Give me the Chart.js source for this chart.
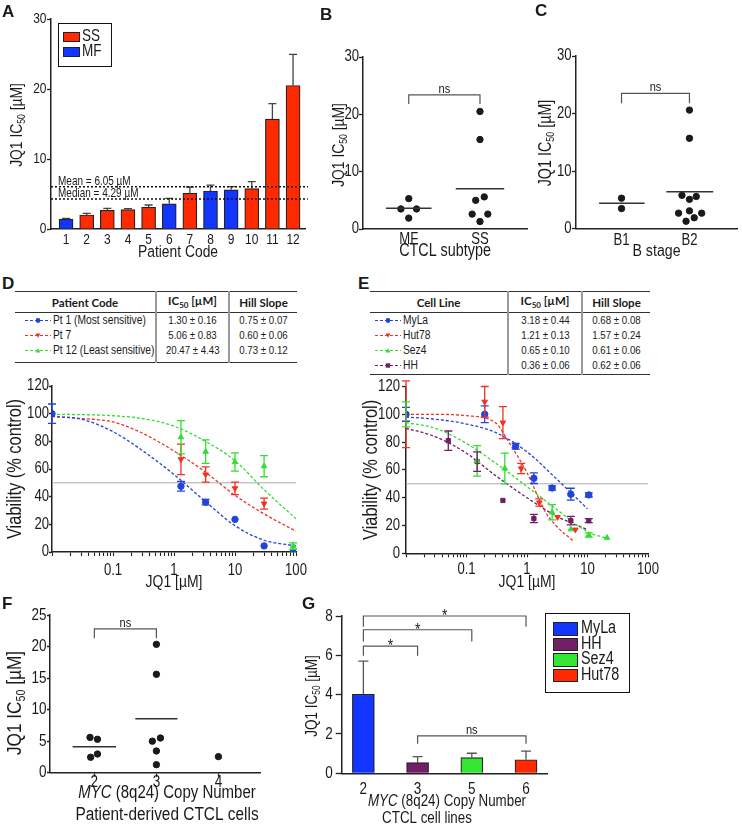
<!DOCTYPE html>
<html>
<head>
<meta charset="utf-8">
<title>JQ1 IC50 in CTCL</title>
<script src="https://cdn.jsdelivr.net/npm/chart.js@4.4.1/dist/chart.umd.min.js"></script>
<style>
  body { margin: 0; background: #fff; }
  #page { position: relative; width: 742px; height: 826px; overflow: hidden; color: #1a1a1a;
          font-family: 'Liberation Sans', Arial, sans-serif; }
  canvas { position: absolute; }
  .letter { position: absolute; font: bold 17px/17px 'Liberation Sans', Arial, sans-serif; }
  .n { display: inline-block; transform: scaleX(0.82); transform-origin: left center; }
  .nc { display: inline-block; transform: scaleX(0.82); transform-origin: center center; }
  .legend { position: absolute; border: 1.3px solid #111; box-sizing: border-box; }
  .legend .it { position: absolute; white-space: nowrap; line-height: 1; transform: scaleX(0.82); transform-origin: left center; }
  .legend .sw { position: absolute; box-sizing: border-box; border: 1px solid #222; }
  table.fit { position: absolute; border-collapse: collapse; table-layout: fixed;
              border-top: 1.5px solid #333; border-bottom: 1.5px solid #333; }
  table.fit th { font: bold 11.5px Lato, 'Open Sans', sans-serif; height: 20px; padding: 0;
                 border-bottom: 1.2px solid #333; text-align: center; }
  table.fit td { height: 15px; line-height: 15px; padding: 0; white-space: nowrap; font-size: 12.5px; }
  table.fit td.c { text-align: center; font-size: 11.8px; }
  table.fit .v { border-left: 2px solid #999; }
  table.fit sub { font-size: 8px; }
  table.fit svg { vertical-align: middle; margin-right: 2px; }
</style>
</head>
<body>
<div id="page">
  <canvas id="cA"></canvas>
  <canvas id="cB"></canvas>
  <canvas id="cC"></canvas>
  <canvas id="cD"></canvas>
  <canvas id="cE"></canvas>
  <canvas id="cF"></canvas>
  <canvas id="cG"></canvas>
  <div class="letter" style="left:2px;top:3px">A</div>
  <div class="letter" style="left:320px;top:6px">B</div>
  <div class="letter" style="left:535px;top:2px">C</div>
  <div class="letter" style="left:2px;top:275px">D</div>
  <div class="letter" style="left:358px;top:275px">E</div>
  <div class="letter" style="left:2px;top:595px">F</div>
  <div class="letter" style="left:302px;top:595px">G</div>
  <table class="fit" id="tD" style="left:15px;top:291px;width:282px"></table>
  <table class="fit" id="tE" style="left:370px;top:291px;width:280px"></table>
  <div class="legend" id="lgA" style="left:58px;top:23px;width:54px;height:44px"></div>
  <div class="legend" id="lgG" style="left:545px;top:613px;width:85px;height:80px"></div>
</div>
<script>
// ---- data ----
// A: IC50 per patient
var aCodes = ["1", "2", "3", "4", "5", "6", "7", "8", "9", "10", "11", "12"];
var aIC50 = [1.4, 2.0, 2.67, 2.76, 3.1, 3.6, 5.1, 5.43, 5.6, 5.76, 15.7, 20.5];
var aErr = [0.12, 0.24, 0.28, 0.14, 0.33, 0.78, 0.9, 0.85, 0.45, 1.0, 2.2, 4.45];
var aSubtype = ["MF", "SS", "SS", "SS", "SS", "MF", "SS", "MF", "MF", "SS", "SS", "SS"];
var aMean = 6.05;
var aMedian = 4.29;

// B: CTCL subtype
var bCats = ["MF", "SS"];
var bMF = [5.3, 3.5, 3.5, 1.9];
var bSS = [20.5, 15.6, 5.6, 5.0, 2.6, 2.6, 1.3];
var bMeans = [3.6, 7.0];

// C: B stage
var cCats = ["B1", "B2"];
var cB1 = [5.3, 3.5];
var cB2 = [20.6, 15.7, 5.8, 5.1, 5.6, 2.7, 3.1, 2.7, 1.9, 1.3];
var cMeans = [4.4, 6.4];

// D: patient dose response
var dNames = ["Pt 1 (Most sensitive)", "Pt 7", "Pt 12 (Least sensitive)"];
var dIC50txt = ["1.30 ± 0.16", "5.06 ± 0.83", "20.47 ± 4.43"];
var dHilltxt = ["0.75 ± 0.07", "0.60 ± 0.06", "0.73 ± 0.12"];
var dDose = [0.01, 1.3, 3.3, 10, 30, 90];
var dPt1 = [100, 47.5, 36, 23.6, 4.4, 0];
var dPt1Err = [7, 3.5, 2, 0, 0, 0];
var dPt7 = [100, 67, 56, 46, 35];
var dPt7Err = [0, 11, 5.5, 4.5, 4];
var dPt12 = [100, 83, 72.5, 65, 62, 4.3];
var dPt12Err = [0, 12, 8.5, 6.6, 7.6, 2.3];
var dFitDose = [0.01, 0.03, 0.1, 0.3, 1, 3, 10, 30, 100];
var dPt1Fit = [98, 96, 87, 73.5, 56, 38, 19, 8.5, 4.4];
var dPt7Fit = [98, 96.5, 94, 86, 73, 59, 41, 27.5, 15];
var dPt12Fit = [99.5, 99.3, 98.5, 96.5, 91, 81, 66, 45, 24];

// E: cell line dose response
var eNames = ["MyLa", "Hut78", "Sez4", "HH"];
var eIC50txt = ["3.18 ± 0.44", "1.21 ± 0.13", "0.65 ± 0.10", "0.36 ± 0.06"];
var eHilltxt = ["0.68 ± 0.08", "1.57 ± 0.24", "0.61 ± 0.06", "0.62 ± 0.06"];
var eMyLaDose = [0.01, 0.2, 0.65, 1.3, 2.6, 5.3, 10.5];
var eMyLa = [100, 100, 77, 54, 47, 42.5, 42];
var eMyLaErr = [5, 6, 2, 3.8, 1.5, 4.3, 1.5];
var eHut78Dose = [0.01, 0.2, 0.4, 0.8, 1.6, 3.2, 6.3];
var eHut78 = [100, 109, 94, 61, 36.5, 26, 17];
var eHut78Err = [24, 11, 11.5, 3.7, 2.6, 0, 0];
var eSez4Dose = [0.01, 0.15, 0.43, 2.6, 5.3, 10.5, 21];
var eSez4 = [100, 66.5, 61, 29.5, 17.3, 13.2, 11.2];
var eSez4Err = [9, 11, 11, 5.5, 0, 1.5, 0];
var eHHDose = [0.01, 0.05, 0.15, 0.4, 1.3, 5.3, 10.5];
var eHH = [100, 81, 66, 38, 25, 23.5, 23.5];
var eHHErr = [0, 7, 7, 0, 3, 3, 1.5];
var eMyLaFitDose = [0.01, 0.03, 0.1, 0.3, 1, 3, 10];
var eMyLaFit = [98, 96.5, 93, 87, 73, 54, 32];
var eHut78FitDose = [0.01, 0.03, 0.1, 0.3, 0.5, 1, 2, 3, 6];
var eHut78Fit = [100, 100, 99, 94, 80, 58, 30, 20, 8.4];
var eSez4FitDose = [0.01, 0.03, 0.1, 0.3, 1, 3, 10, 20];
var eSez4Fit = [94, 90, 79, 65, 48, 32, 15.5, 11];
var eHHFitDose = [0.01, 0.03, 0.1, 0.3, 1, 3, 10];
var eHHFit = [90, 84, 72, 56, 40, 27, 17];

// F: MYC copy number, patients
var fCopy = [2, 3, 4];
var fCopy2 = [5.6, 5.3, 2.45, 2.96];
var fCopy3 = [20.35, 15.6, 5.0, 5.5, 3.44, 1.27];
var fCopy4 = [2.55];
var fMeans = [4.13, 8.55];

// G: MYC copy number, cell lines
var gCells = ["MyLa", "HH", "Sez4", "Hut78"];
var gCopy = ["2", "3", "5", "6"];
var gIC50 = [4.02, 0.54, 0.8, 0.69];
var gErr = [1.69, 0.31, 0.22, 0.44];

var logLabels = ["0.1", "1", "10", "100"];

// horizontal spread of dots inside a column (category units)
var bJitter = [[0, -0.11, 0.11, 0], [0, 0, 0.06, -0.06, -0.11, 0.11, 0]];
var cJitter = [[0, 0], [0, 0, -0.11, 0, 0.1, -0.16, 0, 0.18, 0.07, -0.05]];
var fJitter = [[-0.07, 0.05, -0.06, 0.05], [0, 0, -0.065, 0.065, 0, 0], [0]];

// ---- styles ----
var FN = "'Liberation Sans', Arial, sans-serif";
var INK = "#1a1a1a";
var RED = "#ff2a00", BLUE = "#1236ff", GREEN = "#33e633", PURPLE = "#731f68";
var cBlue = "#2244dd", cRed = "#ee3322", cGreen = "#33dd33", cPurple = "#6e1f66";
var IC50 = [{ t: "JQ1 IC" }, { t: "50", sub: 1 }, { t: " [µM]" }];

// the figure uses a condensed face: squeeze all canvas text horizontally
var NARROW = 0.82;
var rawFillText = CanvasRenderingContext2D.prototype.fillText;
CanvasRenderingContext2D.prototype.fillText = function (text, x, y) {
  this.save();
  this.translate(x, y);
  this.scale(NARROW, 1);
  rawFillText.call(this, text, 0, 0);
  this.restore();
};

Chart.defaults.font.family = FN;
Chart.defaults.color = INK;
Chart.defaults.animation = false;
Chart.defaults.plugins.legend.display = false;
Chart.defaults.plugins.tooltip.enabled = false;

function drawRich(ctx, parts, x, y, rot, size) {
  ctx.save();
  ctx.translate(x, y);
  if (rot) ctx.rotate(-Math.PI / 2);
  ctx.textBaseline = "middle";
  ctx.textAlign = "left";
  ctx.fillStyle = INK;
  var fonts = parts.map(function (p) {
    return (p.i ? "italic " : "") + (p.sub ? size * 0.62 : size).toFixed(1) + "px " + FN;
  });
  var w = 0;
  parts.forEach(function (p, k) { ctx.font = fonts[k]; w += ctx.measureText(p.t).width * NARROW; });
  var cx = -w / 2;
  parts.forEach(function (p, k) {
    ctx.font = fonts[k];
    ctx.fillText(p.t, cx, p.sub ? size * 0.3 : 0);
    cx += ctx.measureText(p.t).width * NARROW;
  });
  ctx.restore();
}

function drawSegments(chart, o, under) {
  var ctx = chart.ctx, xs = chart.scales.x, ys = chart.scales.y;
  (o.segments || []).forEach(function (s) {
    if (!!s.under !== under) return;
    var y = ys.getPixelForValue(s.y);
    ctx.save();
    ctx.strokeStyle = s.color || "#333";
    ctx.lineWidth = s.width || 1.5;
    ctx.setLineDash(s.dash || []);
    ctx.beginPath();
    ctx.moveTo(xs.getPixelForValue(s.x0), y);
    ctx.lineTo(xs.getPixelForValue(s.x1), y);
    ctx.stroke();
    ctx.restore();
  });
}

// error bars, brackets, mean lines and rich titles
var extras = {
  id: "extras",
  beforeDatasetsDraw: function (chart, args, o) { drawSegments(chart, o, true); },
  afterDatasetsDraw: function (chart, args, o) {
    var ctx = chart.ctx, xs = chart.scales.x, ys = chart.scales.y;
    var ox = o.origin ? o.origin[0] : 0, oy = o.origin ? o.origin[1] : 0;
    ctx.save();
    chart.data.datasets.forEach(function (ds, i) {
      if (!ds.errors) return;
      var meta = chart.getDatasetMeta(i);
      ctx.strokeStyle = ds.errorColor || ds.borderColor;
      ctx.lineWidth = 1.3;
      meta.data.forEach(function (el, j) {
        var e = ds.errors[j];
        if (!e) return;
        var v = ds.data[j].y;
        var top = ys.getPixelForValue(v + e);
        var bot = ds.upOnly ? ys.getPixelForValue(v) : ys.getPixelForValue(v - e);
        var cap = ds.cap || 4;
        ctx.beginPath();
        ctx.moveTo(el.x, top); ctx.lineTo(el.x, bot);
        ctx.moveTo(el.x - cap, top); ctx.lineTo(el.x + cap, top);
        if (!ds.upOnly) { ctx.moveTo(el.x - cap, bot); ctx.lineTo(el.x + cap, bot); }
        ctx.stroke();
      });
    });
    ctx.restore();
    drawSegments(chart, o, false);
    (o.brackets || []).forEach(function (b) {
      var x0 = xs.getPixelForValue(b.from), x1 = xs.getPixelForValue(b.to);
      var yt = ys.getPixelForValue(b.y), yl = ys.getPixelForValue(b.leg);
      ctx.save();
      ctx.strokeStyle = "#555";
      ctx.lineWidth = 1.2;
      ctx.beginPath();
      ctx.moveTo(x0, yl); ctx.lineTo(x0, yt); ctx.lineTo(x1, yt); ctx.lineTo(x1, yl);
      ctx.stroke();
      ctx.fillStyle = INK;
      ctx.textAlign = "center";
      ctx.textBaseline = "alphabetic";
      ctx.font = (b.label === "*" ? "17px " : "13.5px ") + FN;
      ctx.fillText(b.label, (x0 + x1) / 2, b.label === "*" ? yt + 5 : yt - 2);
      ctx.restore();
    });
    (o.notes || []).forEach(function (n) {
      ctx.save();
      ctx.fillStyle = INK;
      ctx.font = n.size + "px " + FN;
      ctx.textAlign = "left";
      ctx.textBaseline = "bottom";
      ctx.fillText(n.text, n.px - ox, ys.getPixelForValue(n.y) + 1);
      ctx.restore();
    });
    (o.titles || []).forEach(function (t) {
      drawRich(ctx, t.parts, t.x - ox, t.y - oy, t.rot, t.size);
    });
  }
};
Chart.register(extras);

// place canvas so the plot area lands on the page coords given
function frame(id, box, area) {
  var c = document.getElementById(id);
  c.width = box[2];
  c.height = box[3];
  c.style.left = box[0] + "px";
  c.style.top = box[1] + "px";
  return {
    el: c,
    origin: [box[0], box[1]],
    padding: { left: 0, bottom: 0, top: area[1] - box[1], right: box[0] + box[2] - area[2] },
    yw: area[0] - box[0],
    xh: box[1] + box[3] - area[3]
  };
}

function yAxis(f, min, max, step, o) {
  return {
    min: min,
    max: max,
    afterFit: function (s) { s.width = f.yw; s.paddingTop = 0; s.paddingBottom = 0; },
    ticks: { stepSize: step, font: { size: o.size, lineHeight: 1 }, padding: o.pad, color: INK },
    grid: { drawOnChartArea: false, tickLength: o.tl, color: "#222", tickWidth: 1.3 },
    border: { color: "#222", width: 1.5 },
    title: o.title || { display: false }
  };
}

function xAxis(f, min, max, vals, labels, o) {
  return {
    type: o.type || "linear",
    min: min,
    max: max,
    offset: false,
    afterFit: function (s) { s.height = f.xh; s.paddingLeft = 0; s.paddingRight = 0; },
    afterBuildTicks: function (s) { s.ticks = vals.map(function (v) { return { value: v }; }); },
    ticks: {
      autoSkip: false, maxRotation: 0, padding: o.pad, color: INK,
      font: { size: o.size, lineHeight: 1 },
      callback: function (v, i) { return labels[i]; }
    },
    grid: { drawOnChartArea: false, offset: false, drawTicks: o.tl > 0, tickLength: o.tl || 0, color: "#222", tickWidth: 1.3 },
    border: { color: "#222", width: 1.5 },
    title: o.title || { display: false }
  };
}

function pts(xs, ys) { return xs.map(function (x, i) { return { x: x, y: ys[i] }; }); }
function col(center, vals, jit) { return vals.map(function (v, i) { return { x: center + jit[i], y: v }; }); }

function dots(data) {
  return { data: data, backgroundColor: INK, borderColor: INK, pointRadius: 3.2, pointStyle: "circle" };
}

// ---- A ----
var fA = frame("cA", [0, 0, 318, 262], [51, 19, 305, 229]);
new Chart(fA.el, {
  type: "bar",
  data: {
    datasets: [{
      data: aIC50.map(function (v, i) { return { x: i + 1, y: v }; }),
      errors: aErr,
      upOnly: true,
      errorColor: "#444",
      cap: 4,
      backgroundColor: aSubtype.map(function (s) { return s === "SS" ? RED : BLUE; }),
      borderColor: "#222",
      borderWidth: 1.2,
      barThickness: 14
    }]
  },
  options: {
    responsive: false,
    layout: { padding: fA.padding },
    scales: {
      x: xAxis(fA, 0.27, 12.58, aCodes.map(function (c, i) { return i + 1; }), aCodes,
        { size: 14.6, pad: 3.5, tl: 0, title: { display: true, text: "Patient Code", font: { size: 16.9 }, padding: 0 } }),
      y: yAxis(fA, 0, 30, 10, { size: 14.6, pad: 0.5, tl: 4 })
    },
    plugins: {
      extras: {
        origin: fA.origin,
        segments: [
          { x0: 0.27, x1: 12.72, y: aMean, dash: [2, 2], color: "#111", width: 1.5 },
          { x0: 0.27, x1: 12.72, y: aMedian, dash: [2, 2], color: "#111", width: 1.5 }
        ],
        notes: [
          { px: 58, y: aMean, size: 12.2, text: "Mean = " + aMean.toFixed(2) + " µM" },
          { px: 58, y: aMedian, size: 12.2, text: "Median = " + aMedian.toFixed(2) + " µM" }
        ],
        titles: [{ x: 17, y: 125, rot: true, size: 16.9, parts: IC50 }]
      }
    }
  }
});

// ---- B ----
var fB = frame("cB", [318, 0, 214, 262], [363, 57, 528, 229]);
new Chart(fB.el, {
  type: "scatter",
  data: { datasets: [dots(col(1, bMF, bJitter[0])), dots(col(2, bSS, bJitter[1]))] },
  options: {
    responsive: false,
    layout: { padding: fB.padding },
    scales: {
      x: xAxis(fB, 0.358, 2.66, [1, 2], bCats,
        { size: 16, pad: 3, tl: 0, title: { display: true, text: "CTCL subtype", font: { size: 17.5 }, padding: 0 } }),
      y: yAxis(fB, 0, 30, 10, { size: 16, pad: 0, tl: 4 })
    },
    plugins: {
      extras: {
        origin: fB.origin,
        segments: [
          { x0: 0.68, x1: 1.32, y: bMeans[0] },
          { x0: 1.66, x1: 2.34, y: bMeans[1] }
        ],
        brackets: [{ from: 1, to: 2, y: 23.4, leg: 21.8, label: "ns" }],
        titles: [{ x: 339, y: 145, rot: true, size: 16.9, parts: IC50 }]
      }
    }
  }
});

// ---- C ----
var fC = frame("cC", [532, 0, 210, 262], [576, 56, 742, 228.7]);
new Chart(fC.el, {
  type: "scatter",
  data: { datasets: [dots(col(1, cB1, cJitter[0])), dots(col(2, cB2, cJitter[1]))] },
  options: {
    responsive: false,
    layout: { padding: fC.padding },
    scales: {
      x: xAxis(fC, 0.33, 2.7, [1, 2], cCats,
        { size: 16, pad: 4, tl: 0, title: { display: true, text: "B stage", font: { size: 17.3 }, padding: 0 } }),
      y: yAxis(fC, 0, 30, 10, { size: 16, pad: 0.5, tl: 4 })
    },
    plugins: {
      extras: {
        origin: fC.origin,
        segments: [
          { x0: 0.67, x1: 1.34, y: cMeans[0] },
          { x0: 1.66, x1: 2.35, y: cMeans[1] }
        ],
        brackets: [{ from: 1, to: 2, y: 23.5, leg: 21.8, label: "ns" }],
        titles: [{ x: 546, y: 143, rot: true, size: 17.5, parts: IC50 }]
      }
    }
  }
});

// ---- dose response helpers ----
var logTicks = [];
[0.01, 0.1, 1, 10].forEach(function (d) {
  for (var m = 1; m <= 9; m++) logTicks.push(+(d * m).toPrecision(3));
});
logTicks.push(100);

function logAxis(f, pad) {
  return {
    type: "logarithmic",
    min: 0.01,
    max: 100,
    afterFit: function (s) { s.height = f.xh; s.paddingLeft = 0; s.paddingRight = 0; },
    afterBuildTicks: function (s) { s.ticks = logTicks.map(function (v) { return { value: v }; }); },
    ticks: {
      autoSkip: false, maxRotation: 0, padding: pad, color: INK,
      font: { size: 16, lineHeight: 1 },
      callback: function (v, i, t) {
        var k = logLabels.indexOf(String(t[i].value));
        return k < 0 ? "" : logLabels[k];
      }
    },
    grid: { drawOnChartArea: false, tickLength: 4, color: "#222", tickWidth: 1.1 },
    border: { color: "#222", width: 1.5 },
    title: { display: true, text: "JQ1 [µM]", font: { size: 17 }, padding: 0 }
  };
}

function marks(data, errs, color, style, rot) {
  return {
    data: data, errors: errs, backgroundColor: color, borderColor: color,
    pointStyle: style, rotation: rot || 0, pointRadius: style === "rect" ? 3 : 3.2, cap: 4
  };
}

function fit(data, color) {
  return {
    data: data, showLine: true, borderColor: color, borderWidth: 1.3, borderDash: [3, 2],
    pointRadius: 0, cubicInterpolationMode: "monotone", fill: false
  };
}

// ---- D ----
var fD = frame("cD", [0, 378, 318, 215], [52, 386, 296, 552]);
new Chart(fD.el, {
  type: "scatter",
  data: {
    datasets: [
      marks(pts(dDose, dPt1), dPt1Err, cBlue, "circle"),
      marks(pts(dDose, dPt7), dPt7Err, cRed, "triangle", 180),
      marks(pts(dDose, dPt12), dPt12Err, cGreen, "triangle"),
      fit(pts(dFitDose, dPt1Fit), cBlue),
      fit(pts(dFitDose, dPt7Fit), cRed),
      fit(pts(dFitDose, dPt12Fit), cGreen)
    ]
  },
  options: {
    responsive: false,
    layout: { padding: fD.padding },
    scales: {
      x: logAxis(fD, 7),
      y: yAxis(fD, 0, 120, 20, {
        size: 16, pad: 0, tl: 3,
        title: { display: true, text: "Viability (% control)", font: { size: 20 }, padding: { top: 3, bottom: 0 } }
      })
    },
    plugins: {
      extras: { origin: fD.origin, segments: [{ x0: 0.01, x1: 100, y: 50, color: "#aaa", width: 1, under: true }] }
    }
  }
});

// ---- E ----
var fE = frame("cE", [350, 378, 392, 215], [406, 386.5, 648, 553.3]);
new Chart(fE.el, {
  type: "scatter",
  data: {
    datasets: [
      marks(pts(eMyLaDose, eMyLa), eMyLaErr, cBlue, "circle"),
      marks(pts(eHut78Dose, eHut78), eHut78Err, cRed, "triangle", 180),
      marks(pts(eSez4Dose, eSez4), eSez4Err, cGreen, "triangle"),
      marks(pts(eHHDose, eHH), eHHErr, cPurple, "rect"),
      fit(pts(eMyLaFitDose, eMyLaFit), cBlue),
      fit(pts(eHut78FitDose, eHut78Fit), cRed),
      fit(pts(eSez4FitDose, eSez4Fit), cGreen),
      fit(pts(eHHFitDose, eHHFit), cPurple)
    ]
  },
  options: {
    responsive: false,
    layout: { padding: fE.padding },
    scales: {
      x: logAxis(fE, 4.3),
      y: yAxis(fE, 0, 120, 20, {
        size: 16, pad: 2, tl: 4,
        title: { display: true, text: "Viability (% control)", font: { size: 20 }, padding: { top: 9, bottom: 0 } }
      })
    },
    plugins: {
      extras: { origin: fE.origin, segments: [{ x0: 0.01, x1: 100, y: 50, color: "#aaa", width: 1, under: true }] }
    }
  }
});

// ---- F ----
var fF = frame("cF", [0, 596, 290, 230], [50, 615, 260, 772.7]);
new Chart(fF.el, {
  type: "scatter",
  data: {
    datasets: [
      dots(col(2, fCopy2, fJitter[0])),
      dots(col(3, fCopy3, fJitter[1])),
      dots(col(4, fCopy4, fJitter[2]))
    ]
  },
  options: {
    responsive: false,
    layout: { padding: fF.padding },
    scales: {
      x: xAxis(fF, 1.285, 4.67, fCopy, fCopy.map(String), { size: 16.5, pad: -2.5, tl: 4 }),
      y: yAxis(fF, 0, 25, 5, { size: 16.5, pad: 0.5, tl: 3 })
    },
    plugins: {
      extras: {
        origin: fF.origin,
        segments: [
          { x0: 1.65, x1: 2.35, y: fMeans[0] },
          { x0: 2.66, x1: 3.34, y: fMeans[1] }
        ],
        brackets: [{ from: 2, to: 3, y: 22.8, leg: 21.3, label: "ns" }],
        titles: [
          { x: 15, y: 703, rot: true, size: 21, parts: IC50 },
          { x: 167, y: 792.5, size: 18.3, parts: [{ t: "MYC", i: 1 }, { t: " (8q24) Copy Number" }] },
          { x: 167, y: 815, size: 18.8, parts: [{ t: "Patient-derived CTCL cells" }] }
        ]
      }
    }
  }
});

// ---- G ----
var gColors = [BLUE, PURPLE, GREEN, RED];
var fG = frame("cG", [290, 596, 452, 230], [341.7, 616, 547.7, 773.3]);
new Chart(fG.el, {
  type: "bar",
  data: {
    datasets: [{
      data: gIC50.map(function (v, i) { return { x: i, y: v }; }),
      errors: gErr,
      upOnly: true,
      errorColor: "#555",
      cap: 5,
      backgroundColor: gColors,
      borderColor: "#222",
      borderWidth: 1.2,
      barThickness: 22
    }]
  },
  options: {
    responsive: false,
    layout: { padding: fG.padding },
    scales: {
      x: xAxis(fG, -0.4, 3.4, [0, 1, 2, 3], gCopy, { size: 16.5, pad: 7.7, tl: 0 }),
      y: yAxis(fG, 0, 8, 2, { size: 16.5, pad: 3, tl: 6 })
    },
    plugins: {
      extras: {
        origin: fG.origin,
        brackets: [
          { from: 0, to: 3, y: 8.0, leg: 7.45, label: "*" },
          { from: 0, to: 2, y: 7.3, leg: 6.7, label: "*" },
          { from: 0, to: 1, y: 6.47, leg: 5.98, label: "*" },
          { from: 1, to: 3, y: 1.9, leg: 1.5, label: "ns" }
        ],
        titles: [
          { x: 312.5, y: 696, rot: true, size: 16.5, parts: IC50 },
          { x: 447, y: 801.5, size: 16.3, parts: [{ t: "MYC", i: 1 }, { t: " (8q24) Copy Number" }] },
          { x: 427, y: 819, size: 16.3, parts: [{ t: "CTCL cell lines" }] }
        ]
      }
    }
  }
});

// ---- legends ----
function legend(id, items, sw, rowY, textX, size) {
  var box = document.getElementById(id);
  items.forEach(function (it, k) {
    var s = document.createElement("span");
    s.className = "sw";
    s.style.cssText = "left:" + sw[0] + "px;top:" + rowY[k] + "px;width:" + sw[1] + "px;height:" + sw[2] + "px;background:" + it[1];
    box.appendChild(s);
    var t = document.createElement("div");
    t.className = "it";
    t.textContent = it[0];
    t.style.cssText = "left:" + textX + "px;top:" + (rowY[k] + sw[2] / 2 - size * 0.55) + "px;font-size:" + size + "px";
    box.appendChild(t);
  });
}
legend("lgA", [["SS", RED], ["MF", BLUE]], [4, 17, 10], [7.5, 22.5], 23, 16.5);
legend("lgG", gCells.map(function (c, i) { return [c, gColors[i]]; }), [7, 25, 13.5], [8, 23.5, 39, 54.5], 35, 17.5);

// ---- tables ----
function sym(color, shape) {
  var m;
  if (shape === "circle") m = '<circle cx="13" cy="4.5" r="2.4" fill="' + color + '"/>';
  else if (shape === "down") m = '<polygon points="10.5,2.5 15.5,2.5 13,6.8" fill="' + color + '"/>';
  else if (shape === "up") m = '<polygon points="10.5,6.5 15.5,6.5 13,2.2" fill="' + color + '"/>';
  else m = '<rect x="10.8" y="2.3" width="4.4" height="4.4" fill="' + color + '"/>';
  return '<svg width="26" height="9"><line x1="0" y1="4.5" x2="26" y2="4.5" stroke="' + color +
    '" stroke-width="1.2" stroke-dasharray="3,2"/>' + m + "</svg>";
}

function table(id, head, widths, names, ic, hill, colors, shapes, indent, spacer) {
  var h = '<colgroup>' + widths.map(function (w) { return '<col style="width:' + w + 'px">'; }).join("") + "</colgroup>";
  h += "<tr><th>" + head + '</th><th class="v">IC<sub>50</sub> [µM]</th><th class="v">Hill Slope</th></tr>';
  names.forEach(function (n, i) {
    h += '<tr><td style="padding-left:' + indent + 'px">' + sym(colors[i], shapes[i]) + '<span class="n">' + n +
      '</span></td><td class="c v"><span class="nc">' + ic[i] + '</span></td><td class="c v"><span class="nc">' + hill[i] + "</span></td></tr>";
  });
  h += '<tr><td style="height:' + spacer + 'px"></td><td class="v" style="height:' + spacer + 'px"></td><td class="v" style="height:' + spacer + 'px"></td></tr>';
  document.getElementById(id).innerHTML = h;
}
table("tD", "Patient Code", [141, 73, 68], dNames, dIC50txt, dHilltxt,
  [cBlue, cRed, cGreen], ["circle", "down", "up"], 10, 4);
table("tE", "Cell Line", [138, 74, 68], eNames, eIC50txt, eHilltxt,
  [cBlue, cRed, cGreen, cPurple], ["circle", "down", "up", "rect"], 5, 1);
</script>
</body>
</html>
